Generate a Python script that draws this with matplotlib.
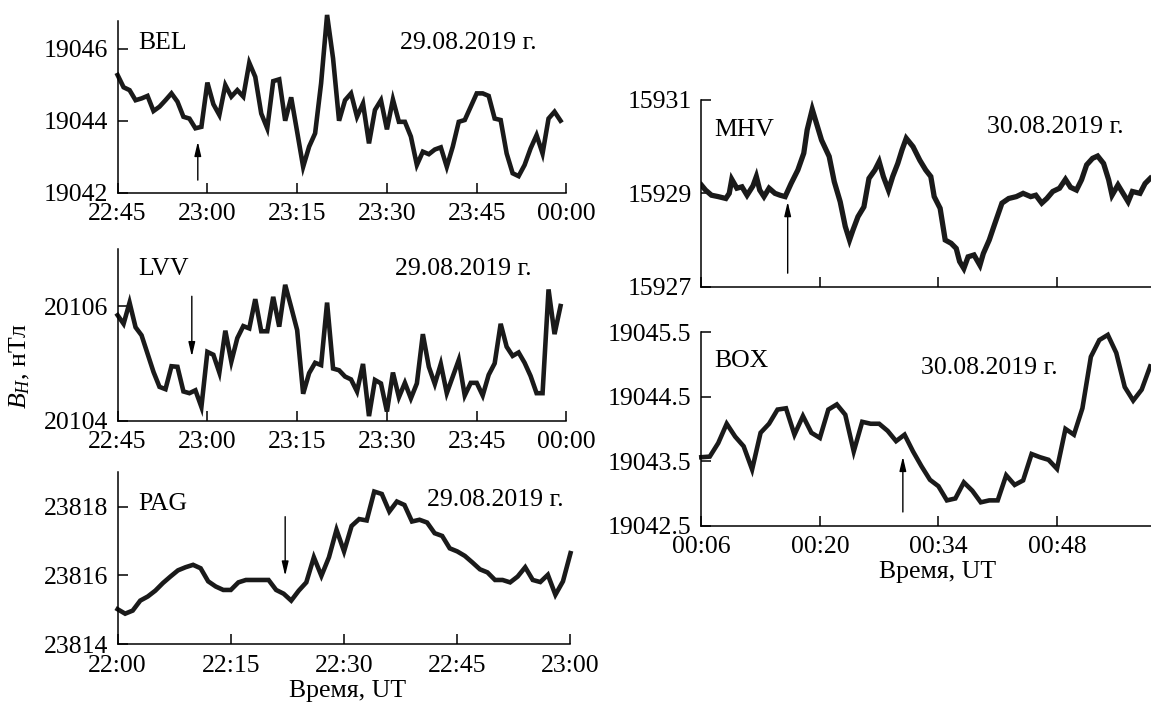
import matplotlib
matplotlib.use('Agg')
import matplotlib.pyplot as plt

plt.rcParams['font.family'] = ['Liberation Serif', 'DejaVu Serif']
plt.rcParams['mathtext.fontset'] = 'custom'
plt.rcParams['mathtext.rm'] = 'Liberation Serif'
plt.rcParams['mathtext.it'] = 'Liberation Serif:italic'
plt.rcParams['axes.formatter.useoffset'] = False

# ---------------- data ----------------
# BEL, 29.08.2019, minutes after 22:45
bel_t = list(range(75))
bel_b = [19045.27, 19044.93, 19044.85, 19044.57, 19044.62, 19044.69, 19044.27, 19044.39, 19044.57, 19044.76,
         19044.53, 19044.11, 19044.06, 19043.79, 19043.83, 19045.06, 19044.46, 19044.16, 19044.99, 19044.67,
         19044.85, 19044.67, 19045.61, 19045.22, 19044.20, 19043.79, 19045.10, 19045.15, 19044.00, 19044.65,
         19043.69, 19042.72, 19043.28, 19043.65, 19045.04, 19046.94, 19045.73, 19044.00, 19044.57, 19044.76,
         19044.11, 19044.48, 19043.37, 19044.30, 19044.57, 19043.76, 19044.59, 19043.97, 19043.97, 19043.56,
         19042.77, 19043.14, 19043.07, 19043.20, 19043.26, 19042.72, 19043.28, 19043.97, 19044.02, 19044.39,
         19044.76, 19044.76, 19044.69, 19044.06, 19044.02, 19043.09, 19042.54, 19042.46, 19042.77, 19043.23,
         19043.60, 19043.09, 19044.06, 19044.25, 19044.00]

# LVV, 29.08.2019, minutes after 22:45
lvv_t = list(range(75))
lvv_b = [20105.84, 20105.69, 20106.06, 20105.63, 20105.49, 20105.17, 20104.85, 20104.59, 20104.55, 20104.95,
         20104.94, 20104.51, 20104.48, 20104.53, 20104.24, 20105.20, 20105.15, 20104.84, 20105.57, 20105.03,
         20105.44, 20105.65, 20105.61, 20106.12, 20105.56, 20105.56, 20106.16, 20105.64, 20106.37, 20105.98,
         20105.58, 20104.47, 20104.83, 20105.01, 20104.97, 20106.06, 20104.91, 20104.88, 20104.77, 20104.72,
         20104.51, 20104.99, 20104.08, 20104.71, 20104.65, 20104.16, 20104.84, 20104.41, 20104.66, 20104.39,
         20104.65, 20105.51, 20104.94, 20104.64, 20104.99, 20104.48, 20104.77, 20105.06, 20104.44, 20104.66,
         20104.66, 20104.44, 20104.80, 20105.00, 20105.69, 20105.29, 20105.13, 20105.19, 20105.01, 20104.78,
         20104.48, 20104.48, 20106.29, 20105.51, 20106.00]

# PAG, 29.08.2019, minutes after 22:00
pag_t = list(range(61))
pag_b = [23815.02, 23814.89, 23814.98, 23815.27, 23815.39, 23815.56, 23815.78, 23815.97, 23816.15, 23816.24,
         23816.31, 23816.21, 23815.83, 23815.68, 23815.58, 23815.58, 23815.80, 23815.87, 23815.87, 23815.87,
         23815.87, 23815.58, 23815.47, 23815.27, 23815.56, 23815.80, 23816.53, 23815.99, 23816.53, 23817.33,
         23816.70, 23817.44, 23817.64, 23817.60, 23818.44, 23818.37, 23817.86, 23818.15, 23818.05, 23817.57,
         23817.62, 23817.54, 23817.23, 23817.15, 23816.79, 23816.70, 23816.57, 23816.38, 23816.18, 23816.09,
         23815.87, 23815.87, 23815.80, 23815.97, 23816.24, 23815.87, 23815.81, 23816.02, 23815.44, 23815.83,
         23816.65]

# MHV, 30.08.2019, minutes after 00:00
mhv_t = [6.0, 6.5, 7.2, 8.0, 8.9, 9.3, 9.6, 10.2, 10.8, 11.4, 12.1, 12.5, 12.9, 13.4, 14.0, 14.7, 15.3, 15.9,
         16.6, 17.4, 18.1, 18.5, 19.1, 19.6, 20.2, 21.1, 21.7, 22.4, 23.0, 23.5, 23.9, 24.5, 25.2, 25.8, 26.5,
         27.0, 27.5, 28.1, 28.6, 29.2, 29.7, 30.2, 31.0, 31.8, 32.5, 33.1, 33.5, 34.2, 34.8, 35.5, 36.1, 36.5,
         37.0, 37.5, 38.2, 38.9, 39.3, 40.0, 40.6, 41.5, 42.3, 43.2, 44.0, 44.9, 45.5, 46.2, 46.8, 47.5, 48.3,
         49.0, 49.6, 50.3, 50.9, 51.5, 52.2, 52.8, 53.5, 54.1, 54.5, 55.2, 55.8, 56.4, 56.9, 57.8, 58.4, 59.0]
mhv_b = [15929.18, 15929.07, 15928.96, 15928.93, 15928.89, 15929.00, 15929.30, 15929.11, 15929.14, 15928.96,
         15929.16, 15929.36, 15929.07, 15928.93, 15929.11, 15929.00, 15928.96, 15928.93, 15929.21, 15929.50,
         15929.86, 15930.36, 15930.80, 15930.50, 15930.14, 15929.79, 15929.25, 15928.82, 15928.29, 15928.00,
         15928.21, 15928.50, 15928.71, 15929.32, 15929.50, 15929.68, 15929.36, 15929.07, 15929.36, 15929.64,
         15929.93, 15930.18, 15930.00, 15929.71, 15929.50, 15929.36, 15928.93, 15928.68, 15928.00, 15927.93,
         15927.82, 15927.54, 15927.39, 15927.64, 15927.68, 15927.46, 15927.71, 15928.00, 15928.32, 15928.79,
         15928.89, 15928.93, 15929.00, 15928.93, 15928.96, 15928.79, 15928.89, 15929.04, 15929.11, 15929.30,
         15929.13, 15929.07, 15929.29, 15929.61, 15929.75, 15929.80, 15929.64, 15929.29, 15928.96, 15929.18,
         15929.00, 15928.82, 15929.04, 15929.00, 15929.21, 15929.32]

# BOX, 30.08.2019, minutes after 00:00
box_t = list(range(6, 60))
box_b = [19043.56, 19043.57, 19043.78, 19044.08, 19043.88, 19043.73, 19043.37, 19043.94, 19044.08, 19044.30,
         19044.32, 19043.91, 19044.20, 19043.94, 19043.86, 19044.30, 19044.38, 19044.22, 19043.65, 19044.11,
         19044.08, 19044.08, 19043.97, 19043.81, 19043.91, 19043.65, 19043.42, 19043.21, 19043.11, 19042.89,
         19042.92, 19043.17, 19043.04, 19042.86, 19042.89, 19042.89, 19043.28, 19043.13, 19043.20, 19043.61,
         19043.56, 19043.52, 19043.38, 19044.00, 19043.91, 19044.32, 19045.12, 19045.38, 19045.46, 19045.18,
         19044.65, 19044.44, 19044.61, 19044.97]

stations = ['BEL', 'LVV', 'PAG', 'MHV', 'BOX']
dates = ['29.08.2019 г.', '29.08.2019 г.', '29.08.2019 г.', '30.08.2019 г.', '30.08.2019 г.']

ticks_45 = [0, 15, 30, 45, 60, 75]
labels_45 = ['22:45', '23:00', '23:15', '23:30', '23:45', '00:00']
ticks_22 = [0, 15, 30, 45, 60]
labels_22 = ['22:00', '22:15', '22:30', '22:45', '23:00']
ticks_00 = [6, 20, 34, 48]
labels_00 = ['00:06', '00:20', '00:34', '00:48']

yt_bel = [19042, 19044, 19046]
yt_lvv = [20104, 20106]
yt_pag = [23814, 23816, 23818]
yt_mhv = [15927, 15929, 15931]
yt_box = [19042.5, 19043.5, 19044.5, 19045.5]

# arrows: (time, tail value, head value)
arrows = {
    'BEL': (13.4, 19042.35, 19043.42),
    'LVV': (12.4, 20106.17, 20105.12),
    'PAG': (22.2, 23817.71, 23815.99),
    'MHV': (16.2, 15927.29, 15928.82),
    'BOX': (29.8, 19042.71, 19043.57),
}

# ---------------- figure ----------------
W, H = 1151, 704
fig = plt.figure(figsize=(W / 100, H / 100), dpi=100)

FS = 18.5
LW = 3.3


def px_axes(x0, x1, ytop, ybot):
    return fig.add_axes([x0 / W, 1 - ybot / H, (x1 - x0) / W, (ybot - ytop) / H])


def style(ax, yticks, ylabels=None):
    for s in ['top', 'right']:
        ax.spines[s].set_visible(False)
    for s in ['left', 'bottom']:
        ax.spines[s].set_linewidth(1.1)
    ax.set_yticks(yticks)
    ax.set_yticklabels(ylabels if ylabels is not None else [str(v) for v in yticks])
    ax.tick_params(direction='in', length=7, width=1.1, labelsize=FS, colors='black')
    ax.tick_params(axis='y', pad=7)
    ax.tick_params(axis='x', pad=7.5)


def arrow(ax, key):
    t, y0, y1 = arrows[key]
    ax.annotate('', xy=(t, y1), xytext=(t, y0),
                arrowprops=dict(arrowstyle='-|>,head_length=0.85,head_width=0.2',
                                lw=1.0, color='black', shrinkA=0, shrinkB=0))


# BEL
ax = px_axes(117.6, 566.5, 20.7, 192.7)
ax.plot(bel_t, bel_b, color='#1a1a1a', lw=LW, clip_on=False, solid_joinstyle='miter')
ax.set_xlim(0, 75)
ax.set_ylim(19042, 19046.78)
ax.set_xticks(ticks_45)
ax.set_xticklabels(labels_45)
style(ax, yt_bel)
ax.text(3.5, 19046.17, stations[0], fontsize=FS, va='center', ha='left')
ax.text(47.1, 19046.17, dates[0], fontsize=FS, va='center', ha='left')
arrow(ax, 'BEL')

# LVV
ax = px_axes(117.6, 566.5, 248.7, 420.7)
ax.plot(lvv_t, lvv_b, color='#1a1a1a', lw=LW, clip_on=False, solid_joinstyle='miter')
ax.set_xlim(0, 75)
ax.set_ylim(20104, 20107)
ax.set_xticks(ticks_45)
ax.set_xticklabels(labels_45)
style(ax, yt_lvv)
ax.text(3.5, 20106.65, stations[1], fontsize=FS, va='center', ha='left')
ax.text(46.4, 20106.65, dates[1], fontsize=FS, va='center', ha='left')
arrow(ax, 'LVV')

# PAG
ax = px_axes(117.6, 570.5, 472.3, 644.3)
ax.plot(pag_t, pag_b, color='#1a1a1a', lw=LW, clip_on=False, solid_joinstyle='miter')
ax.set_xlim(0, 60)
ax.set_ylim(23814, 23819)
ax.set_xticks(ticks_22)
ax.set_xticklabels(labels_22)
style(ax, yt_pag)
ax.text(2.8, 23818.07, stations[2], fontsize=FS, va='center', ha='left')
ax.text(41.0, 23818.19, dates[2], fontsize=FS, va='center', ha='left')
ax.set_xlabel('Время, UT', fontsize=FS, va='center')
ax.xaxis.set_label_coords(0.508, -0.272)
arrow(ax, 'PAG')

# MHV
ax = px_axes(701.3, 1151, 100, 286.7)
ax.plot(mhv_t, mhv_b, color='#1a1a1a', lw=LW + 0.5, solid_joinstyle='miter')
ax.set_xlim(6, 59.1)
ax.set_ylim(15927, 15931)
ax.set_xticks(ticks_00)
ax.set_xticklabels([])
style(ax, yt_mhv)
ax.text(7.5, 15930.35, stations[3], fontsize=FS, va='center', ha='left')
ax.text(39.7, 15930.42, dates[3], fontsize=FS, va='center', ha='left')
arrow(ax, 'MHV')

# BOX
ax = px_axes(701.3, 1151, 332.3, 525.5)
ax.plot(box_t, box_b, color='#1a1a1a', lw=LW, clip_on=False, solid_joinstyle='miter')
ax.set_xlim(6, 59.1)
ax.set_ylim(19042.5, 19045.5)
ax.set_xticks(ticks_00)
ax.set_xticklabels(labels_00)
style(ax, yt_box)
ax.text(7.5, 19045.05, stations[4], fontsize=FS, va='center', ha='left')
ax.text(31.9, 19044.95, dates[4], fontsize=FS, va='center', ha='left')
ax.set_xlabel('Время, UT', fontsize=FS, va='center')
ax.xaxis.set_label_coords(0.526, -0.24)
arrow(ax, 'BOX')

fig.text(20 / W, 1 - 366 / H, r'$B_H$, нТл', rotation=90, fontsize=FS,
         va='center', ha='center')

fig.savefig('out.png', dpi=100)
